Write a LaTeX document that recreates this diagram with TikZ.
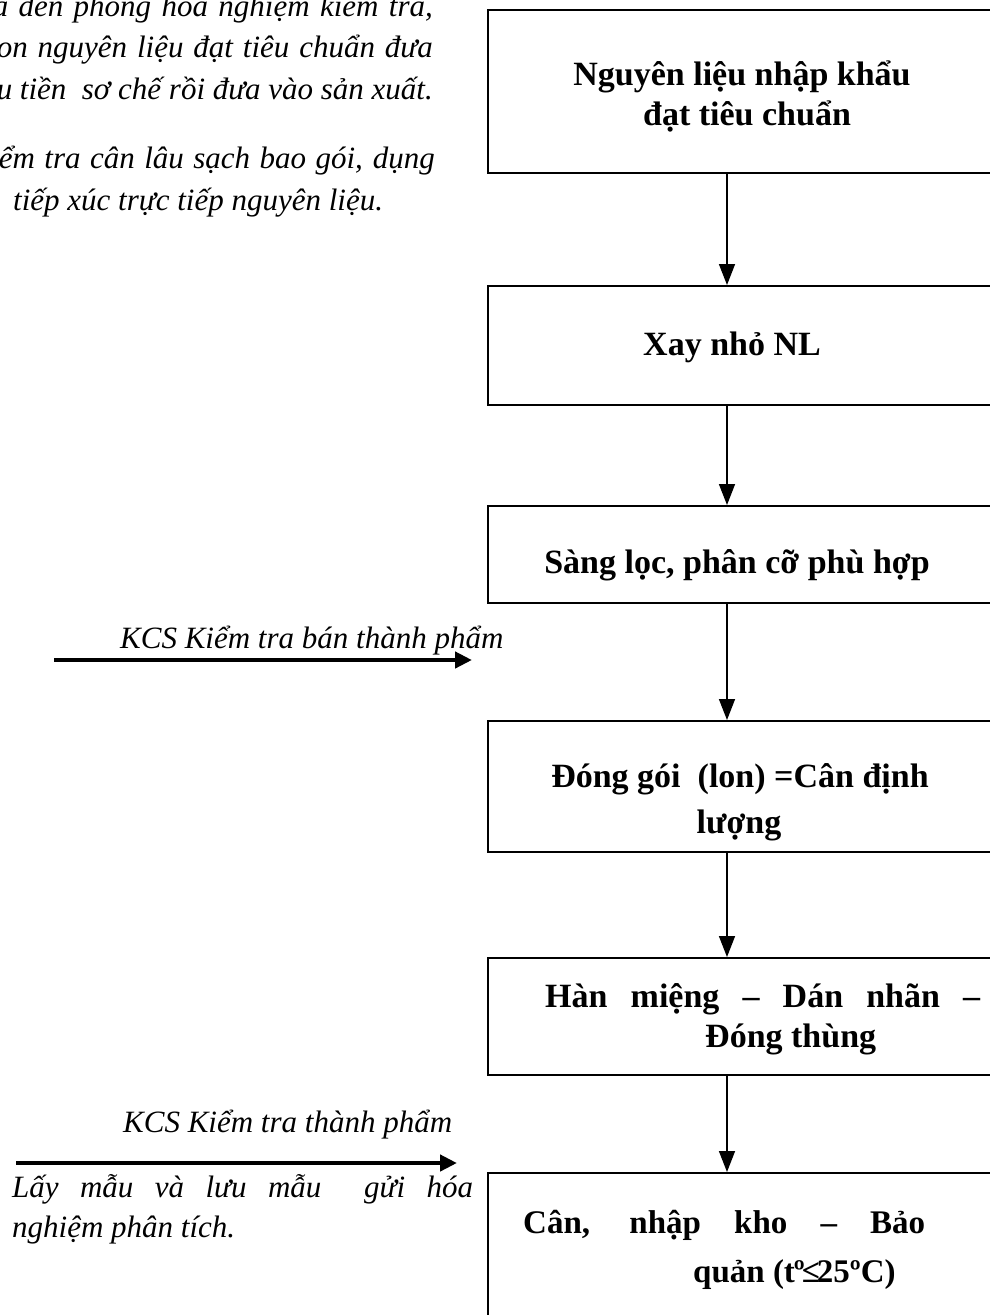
\documentclass[tikz,border=0pt]{standalone}
\usepackage{fontspec}
\setmainfont{Liberation Serif}
\usetikzlibrary{arrows.meta}

\tikzset{
  stepbox/.style={draw, line width=2pt, minimum width=506pt, inner sep=0pt},
  boxtext/.style={font=\bfseries\fontsize{34}{40}\selectfont, inner sep=0pt},
  lastboxtext/.style={font=\bfseries\fontsize{33}{40}\selectfont, inner sep=0pt},
  note/.style={font=\itshape\fontsize{31}{40}\selectfont, inner sep=0pt},
  flow/.style={line width=1.5pt, -{Triangle[length=21pt,width=16pt]}},
  check/.style={line width=4.5pt, -{Triangle[length=17pt,width=16pt]}}
}

\begin{document}
\begin{tikzpicture}[x=1pt, y=-1pt]
\useasboundingbox (0,0) rectangle (990,1315);
\clip (0,0) rectangle (990,1315);

% process boxes
\node[stepbox, minimum height=163pt] (b1) at (741,91.5) {};
\node[stepbox, minimum height=119pt] (b2) at (741,345.5) {};
\node[stepbox, minimum height=97pt]  (b3) at (741,554.5) {};
\node[stepbox, minimum height=131pt] (b4) at (741,786.5) {};
\node[stepbox, minimum height=117pt] (b5) at (741,1016.5) {};
\node[stepbox, minimum height=167pt] (b6) at (741,1256.5) {};

% box texts
\node[boxtext, anchor=base] (t1a) at (742,85) {Nguyên liệu nhập khẩu};
\node[boxtext, anchor=base] (t1b) at (747,125) {đạt tiêu chuẩn};
\node[boxtext, anchor=base] (t2) at (732,355) {Xay nhỏ NL};
\node[boxtext, anchor=base] (t3) at (737,573) {Sàng lọc, phân cỡ phù hợp};
\node[boxtext, anchor=base] (t4a) at (740,787) {Đóng gói\ \ (lon) =Cân định};
\node[boxtext, anchor=base] (t4b) at (739,833) {lượng};
\node[boxtext, anchor=base west] (t5a) at (545,1007) {\makebox[435pt][s]{Hàn miệng – Dán nhãn –}};
\node[boxtext, anchor=base west] (t5b) at (705,1047) {Đóng thùng};
\node[lastboxtext, anchor=base west] (t6a) at (523,1233) {\makebox[402pt][s]{Cân, nhập kho – Bảo}};
\node[lastboxtext, anchor=base west] (t6b) at (693,1282) {quản (t\kern-1ptº\kern-3pt≤\kern-3pt25ºC)};

% main flow
\coordinate (ax) at (727,0);
\draw[flow] (b1.south -| ax) -- (b2.north -| ax);
\draw[flow] (b2.south -| ax) -- (b3.north -| ax);
\draw[flow] (b3.south -| ax) -- (b4.north -| ax);
\draw[flow] (b4.south -| ax) -- (b5.north -| ax);
\draw[flow] (b5.south -| ax) -- (b6.north -| ax);

% notes on the left (justified lines)
\node[note, anchor=base east] (n1) at (433,16) {\makebox[440pt][s]{a đên phòng hóa nghiệm kiêm tra,}};
\node[note, anchor=base east] (n2) at (433,57) {\makebox[436pt][s]{on nguyên liệu đạt tiêu chuẩn đưa}};
\node[note, anchor=base east] (n3) at (433,99) {\makebox[436pt][s]{u tiền\ \ sơ chế rồi đưa vào sản xuất.}};
\node[note, anchor=base east] (n4) at (435,168) {\makebox[436pt][s]{ểm tra cân lâu sạch bao gói, dụng}};
\node[note, anchor=base west] (n5) at (13,210) {tiếp xúc trực tiếp nguyên liệu.};

% quality checks
\node[note, anchor=base west] (k1) at (120,648) {KCS Kiểm tra bán thành phẩm};
\coordinate (k1s) at (54,660);
\coordinate (k1e) at (472,660);
\draw[check] (k1s) -- (k1e);

\node[note, anchor=base west] (k2) at (123,1132) {KCS Kiểm tra thành phẩm};
\coordinate (k2s) at (16,1163);
\coordinate (k2e) at (457,1163);
\draw[check] (k2s) -- (k2e);

\node[note, anchor=base west] (s1) at (12,1197) {\makebox[461pt][s]{Lấy mẫu và lưu mẫu\ \ gửi hóa}};
\node[note, anchor=base west] (s2) at (12,1237) {nghiệm phân tích.};
\end{tikzpicture}
\end{document}
